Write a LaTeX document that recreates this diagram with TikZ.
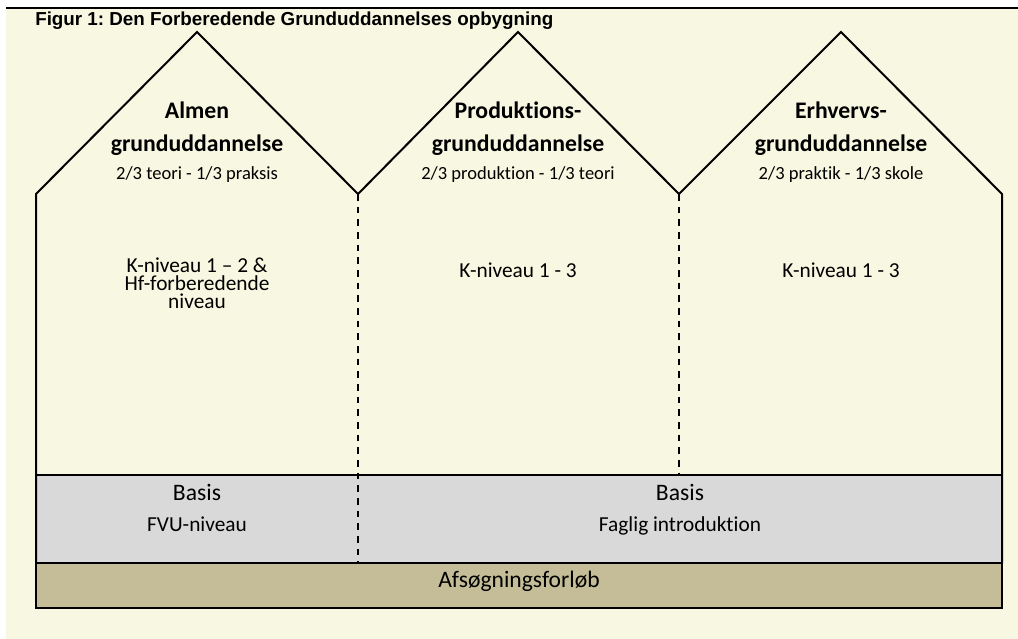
\documentclass[tikz,border=0pt]{standalone}
\usepackage{fontspec}
\setmainfont[Ligatures=NoCommon]{Carlito}
\newfontfamily\arialfont{Liberation Sans}
\definecolor{creme}{HTML}{F8F7E1}
\definecolor{basisgraa}{HTML}{D9D9D9}
\definecolor{afsoeg}{HTML}{C4BD97}
\frenchspacing

\begin{document}
\begin{tikzpicture}[x=0.75pt,y=-0.75pt,
    mur/.style={line width=1.5pt,line join=miter},
    skille/.style={line width=1.5pt,dash pattern=on 5pt off 4.5pt},
    overskrift/.style={anchor=base,font=\bfseries\fontsize{17.8}{20}\selectfont},
    under/.style={anchor=base,font=\fontsize{13.9}{16}\selectfont},
    niveau/.style={font=\fontsize{16}{13.4}\selectfont,align=center},
    basis/.style={anchor=base,font=\fontsize{17.7}{20}\selectfont}]
    \useasboundingbox (0,0) rectangle (1018,639);
    \fill[creme] (6,9) rectangle (1018,639);
    \draw[line width=1.1pt] (6,8) -- (1018,8);

    \node[anchor=base west,inner sep=0pt,font=\arialfont\bfseries\fontsize{14.1}{16}\selectfont] (titel) at (35,26) {Figur 1: Den Forberedende Grunduddannelses opbygning};

%    \draw[red] (0,0) grid[step=50] (1018,639);

    \coordinate (dal1) at (358,194);
    \coordinate (dal2) at (679,194);

    \draw[line width=1.1pt,fill=basisgraa] (36,475) rectangle (1002,563);
    \draw[line width=1.5pt,fill=afsoeg] (36,563) rectangle (1002,608);
    \draw[mur] (36,563) -- (36,194) -- (197,32) -- (dal1) -- (518,32) -- (dal2) -- (841,32) -- (1002,194) -- (1002,563);

    \draw[skille] (dal1) -- (358,563);
    \draw[skille] (dal2) -- (679,475);

    \node[overskrift] (almen) at (197,118) {Almen};
    \node[overskrift] (almen2) at (197,151) {grunduddannelse};
    \node[under] (almen3) at (197,179) {2/3 teori - 1/3 praksis};
    \node[overskrift] (prod) at (518,118) {Produktions-};
    \node[overskrift] (prod2) at (518,151) {grunduddannelse};
    \node[under] (prod3) at (518,179) {2/3 produktion - 1/3 teori};
    \node[overskrift] (erhv) at (841,118) {Erhvervs-};
    \node[overskrift] (erhv2) at (841,151) {grunduddannelse};
    \node[under] (erhv3) at (841,179) {2/3 praktik - 1/3 skole};

    \node[niveau,inner sep=0pt] (kalmen) at (197,283) {K-niveau 1 -- 2 \&\\Hf-forberedende\\niveau};
    \node[niveau,anchor=base] (kprod) at (518,277) {K-niveau 1 - 3};
    \node[niveau,anchor=base] (kerhv) at (841,277) {K-niveau 1 - 3};

    \node[basis] (basis1) at (197,500) {Basis};
    \node[niveau,anchor=base] (fvu) at (197,531) {FVU-niveau};
    \node[basis] (basis2) at (680,500) {Basis};
    \node[niveau,anchor=base] (faglig) at (680,531) {Faglig introduktion};
    \node[basis] (afsoeg) at (519,587) {Afsøgningsforløb};
\end{tikzpicture}
\end{document}
